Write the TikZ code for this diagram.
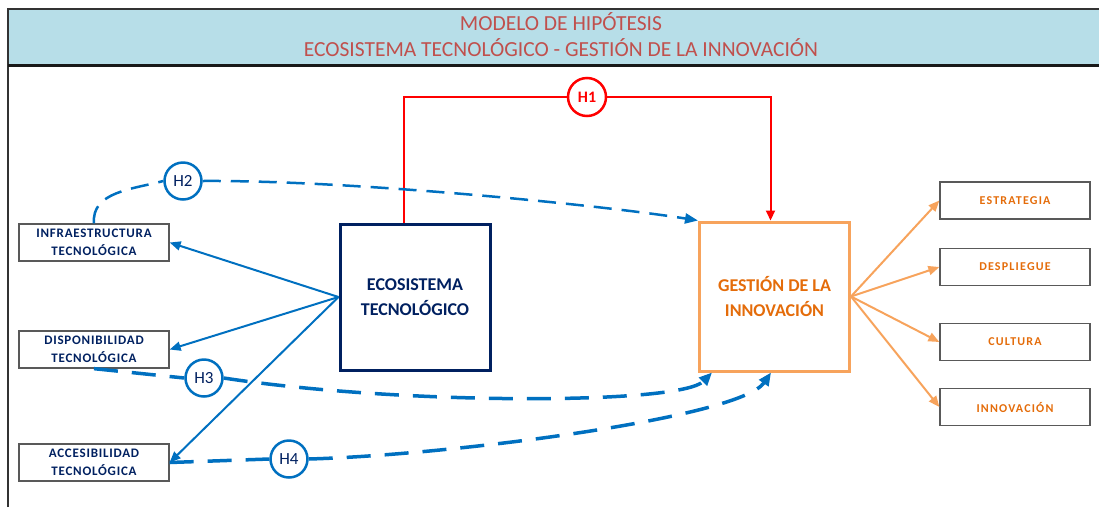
\documentclass[tikz,border=0pt]{standalone}
\usepackage{fontspec}
\setmainfont{Carlito}
\newfontfamily\spacedL[LetterSpace=6]{Carlito}
\newfontfamily\spacedR[LetterSpace=10]{Carlito}
\usetikzlibrary{calc,arrows.meta}
\definecolor{tblue}{HTML}{0070C0}
\definecolor{navy}{HTML}{002060}
\definecolor{oline}{HTML}{F7A35C}
\definecolor{otext}{HTML}{E46C0A}
\definecolor{headblue}{HTML}{B7DEE8}
\definecolor{titlered}{HTML}{C0504D}

\begin{document}
\begin{tikzpicture}[x=1pt,y=-1pt,
  dimbox/.style={draw=black!65,line width=1.3pt,minimum width=150pt,minimum height=37pt,inner sep=0pt,align=center},
  lefttext/.style={text=navy,font=\spacedL\bfseries\fontsize{13}{18}\selectfont},
  righttext/.style={text=otext,font=\spacedR\bfseries\fontsize{12}{12}\selectfont},
  hyp/.style={circle,draw=tblue,line width=2.5pt,fill=white,minimum size=37pt,inner sep=0pt,text=navy,font=\fontsize{17}{17}\selectfont},
  barrow/.style={tblue,line width=2pt,-{Triangle[length=11pt,width=9pt]}},
  oarrow/.style={oline,line width=2pt,-{Triangle[length=11pt,width=9pt]}},
  dashA/.style={tblue,line width=2.5pt,dash pattern=on 18pt off 10pt},
  dashB/.style={tblue,line width=3.5pt,dash pattern=on 24pt off 14pt}]
\useasboundingbox (0,0) rectangle (1099,507);
\fill[headblue] (8,9) rectangle (1105,65);
\draw[black!80,line width=1.5pt] (8,507) -- (8,9) -- (1105,9);
\draw[black!90,line width=3pt] (8,65) -- (1105,65);
\node[text=titlered,font=\fontsize{21.5}{26}\selectfont,align=center] (title) at (561,35)
  {MODELO DE HIPÓTESIS\\ECOSISTEMA TECNOLÓGICO - GESTIÓN DE LA INNOVACIÓN};

\node[dimbox,lefttext] (infra) at (94,242.5){INFRAESTRUCTURA\\TECNOLÓGICA};
\node[dimbox,lefttext] (dispon) at (94,349.5){DISPONIBILIDAD\\TECNOLÓGICA};
\node[dimbox,lefttext] (acces) at (94,462.5){ACCESIBILIDAD\\TECNOLÓGICA};
\node[draw=navy,line width=3pt,minimum width=150pt,minimum height=146pt,align=center,text=navy,
  font=\bfseries\fontsize{18}{25}\selectfont] (eco) at (415,297){ECOSISTEMA\\TECNOLÓGICO};
\node[draw=oline,line width=3pt,minimum width=150pt,minimum height=149pt,align=center,text=otext,
  font=\bfseries\fontsize{18}{25}\selectfont] (gest) at (774.5,296.5){GESTIÓN DE LA\\INNOVACIÓN};

\foreach \n/\y/\t in {estr/200.5/ESTRATEGIA,desp/267/DESPLIEGUE,cult/342/CULTURA,innov/407/INNOVACIÓN}{
  \node[dimbox,righttext] (\n) at (1015,\y){\t};
  \draw[oarrow] (gest.east) -- (\n.west);}

\foreach \n in {infra,dispon,acces}{\draw[barrow] (eco.west) -- (\n.east);}

\node[circle,draw=red,line width=2.5pt,fill=white,minimum size=38pt,inner sep=0pt,text=red,
  font=\bfseries\fontsize{16}{16}\selectfont] (h1) at (587,97){H1};
\coordinate (h1s) at ($(eco.north)+(-11,0)$);
\coordinate (h1e) at ($(gest.north)+(-4,0)$);
\draw[red,line width=2pt] (h1s) |- (h1.west);
\draw[red,line width=2pt,-{Triangle[length=10pt,width=9pt]}] (h1.east) -| (h1e);

\node[hyp] (h2) at (183,181){H2};
\node[hyp] (h3) at (204,378){H3};
\node[hyp] (h4) at (289,459){H4};
\coordinate (g3) at ($(gest.south west)+(14,0)$);
\coordinate (g4) at ($(gest.south west)+(73,0)$);

\draw[dashA] (infra.north) to[out=95,in=195] (h2.west);
\draw[dashA,-{Triangle[length=13pt,width=10pt]}] (h2.east) .. controls (350,180) and (600,205) .. (gest.north west);
\draw[dashB] (dispon.south) -- (h3.west);
\draw[dashB,-{Triangle[length=13pt,width=11pt]}] (h3.east) .. controls (400,405) and (680,405) .. (g3);
\draw[dashB] (acces.east) -- (h4.west);
\draw[dashB,-{Triangle[length=13pt,width=11pt]}] (h4.east) .. controls (450,455) and (740,418) .. (g4);
\end{tikzpicture}
\end{document}
